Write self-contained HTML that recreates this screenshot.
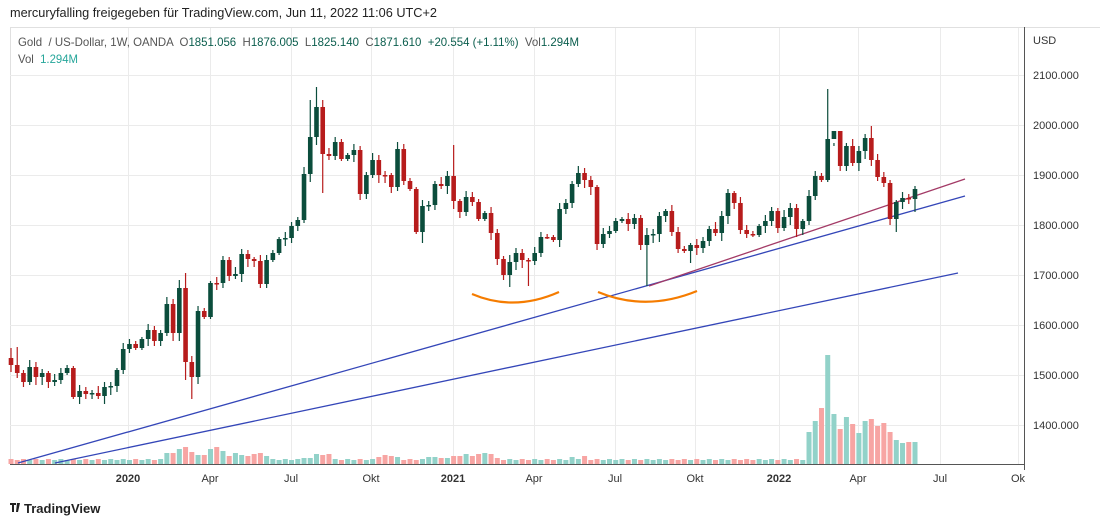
<!DOCTYPE html>
<html><head><meta charset="utf-8">
<style>
html,body{margin:0;padding:0;background:#fff;}
body{width:1100px;height:527px;overflow:hidden;font-family:"Liberation Sans","DejaVu Sans",sans-serif;}
svg text{font-family:"Liberation Sans","DejaVu Sans",sans-serif;}
</style></head>
<body>
<svg id="s" width="1100" height="527" viewBox="0 0 1100 527" xmlns="http://www.w3.org/2000/svg">
<rect width="1100" height="527" fill="#fff"/>
<text x="10" y="17" font-size="13" fill="#222" textLength="427" lengthAdjust="spacingAndGlyphs">mercuryfalling freigegeben für TradingView.com, Jun 11, 2022 11:06 UTC+2</text>
<line x1="10" y1="27.5" x2="1100" y2="27.5" stroke="#e0e0e0"/>
<line x1="10.5" y1="27" x2="10.5" y2="465" stroke="#e0e0e0"/>
<g id="grid" stroke="#ebebeb" stroke-width="1"></g>
<text x="18" y="46" font-size="12" fill="#555" xml:space="preserve" textLength="561" lengthAdjust="spacingAndGlyphs">Gold  / US-Dollar, 1W, OANDA  <tspan fill="#555">O</tspan><tspan fill="#0b5e4e">1851.056</tspan>  <tspan fill="#555">H</tspan><tspan fill="#0b5e4e">1876.005</tspan>  <tspan fill="#555">L</tspan><tspan fill="#0b5e4e">1825.140</tspan>  <tspan fill="#555">C</tspan><tspan fill="#0b5e4e">1871.610  +20.554 (+1.11%)</tspan>  <tspan fill="#555">Vol</tspan><tspan fill="#0b5e4e">1.294M</tspan></text>
<text x="18" y="63" font-size="12" fill="#555" xml:space="preserve" textLength="60" lengthAdjust="spacingAndGlyphs">Vol  <tspan fill="#26a69a">1.294M</tspan></text>
<g id="vol"></g>
<g id="lines" fill="none" stroke-width="1.3">
<line x1="18" y1="463" x2="965" y2="196" stroke="#3446b8"/>
<line x1="55" y1="463" x2="958" y2="273" stroke="#3446b8"/>
<line x1="649" y1="286" x2="965" y2="179" stroke="#a33a66"/>
<path d="M472,294 Q514,312 559,292" stroke="#f57c00" stroke-width="2.2"/>
<path d="M598,292 Q646,312 697,291" stroke="#f57c00" stroke-width="2.2"/>
</g>
<g id="c"></g>
<line x1="1024.5" y1="27" x2="1024.5" y2="470" stroke="#555"/>
<line x1="10" y1="464.5" x2="1024" y2="464.5" stroke="#555"/>
<text x="1033" y="44" font-size="11" fill="#333">USD</text>
<g id="pl" font-size="11" fill="#333"></g>
<g id="tl" font-size="11" fill="#333" text-anchor="middle"></g>
<g transform="translate(10,503)"><path d="M0,0h6v2h-2v7h-2v-7h-2z M7,0h3l-2,9h-2z" fill="#222"/></g>
<text x="24" y="513" font-size="13" fill="#222" font-weight="bold">TradingView</text>
</svg>
<script>
(function(){
var NS="http://www.w3.org/2000/svg";
function el(p,t,a,txt){var e=document.createElementNS(NS,t);for(var k in a)e.setAttribute(k,a[k]);if(txt)e.textContent=txt;document.getElementById(p).appendChild(e);return e;}
var prices=[2100,2000,1900,1800,1700,1600,1500,1400];
prices.forEach(function(p,i){var y=75+i*50;el("grid","line",{x1:10,y1:y+.5,x2:1024,y2:y+.5});el("pl","text",{x:1033,y:y+4},p+".000");});
var tx=[[128,"2020",1],[210,"Apr"],[291,"Jul"],[371,"Okt"],[453,"2021",1],[534,"Apr"],[615,"Jul"],[695,"Okt"],[779,"2022",1],[858,"Apr"],[940,"Jul"],[1018,"Ok"]];
tx.forEach(function(t){el("grid","line",{x1:t[0]+.5,y1:28,x2:t[0]+.5,y2:464});var e=el("tl","text",{x:t[0],y:482},t[1]);if(t[2])e.setAttribute("font-weight","bold");});
var cl=[365,373,382,367,377,373,382,380,373,368,397,391,394,393,396,387,386,370,349,344,348,339,330,341,333,304,333,288,362,377,311,317,283,283,260,276,274,254,259,261,284,260,253,239,238,226,220,174,137,107,154,156,142,159,155,150,194,175,160,175,175,187,149,181,189,232,206,205,184,186,176,201,212,197,202,219,213,233,259,275,262,253,260,261,253,237,237,240,209,203,184,173,180,187,244,234,231,221,219,224,218,245,235,234,216,211,232,249,251,245,248,241,229,233,216,193,203,230,234,235,226,221,211,228,217,208,229,221,196,176,180,139,131,166,146,163,151,138,160,177,183,219,202,198,199,189];
var hi={1:348,2:347,29:273,28:280,49:100,50:87,51:100,63:142,72:145,132:89,133:143,139:126,134:151};
var lo={29:380,30:399,51:193,31:384,57:200,67:243,79:265,80:280,81:287,84:286,103:286,110:263,142:225,143:232,146:212};
var vh={26:11,27:11,28:15,29:17,30:12,31:9,32:9,33:15,34:17,35:13,36:8,37:11,38:9,39:8,40:10,41:11,42:8,48:6,49:6,50:10,51:9,52:10,60:7,61:9,62:8,63:7,68:7,69:7,70:6,71:6,72:8,73:8,74:10,75:8,76:10,77:11,78:10,79:6,91:7,92:5,93:8,
129:32,130:43,131:56,132:109,133:50,134:35,135:47,136:40,137:31,138:43,139:45,140:38,141:41,142:32,143:24,144:21,145:22,146:22};
var sp=904/145;
for(var i=0;i<cl.length;i++){
 var n=i+1,x=11+i*sp,o=(i==0?358:cl[i-1]),c=cl[i];
 var up=c<o;var col=up?"#0b4d3c":"#b71c1c";
 var tp=Math.min(o,c),bt=Math.max(o,c);
 var r=((n*37)%11);
 var h=hi[n]!==undefined?hi[n]:tp-(2+r%6);
 var l=lo[n]!==undefined?lo[n]:bt+(2+(r*3)%7);
 el("c","line",{x1:x,y1:h,x2:x,y2:l,stroke:col,"stroke-width":1.2});
 el("c","rect",{x:x-2.3,y:tp,width:4.6,height:Math.max(1.5,bt-tp),fill:col});
 var vv=vh[n]!==undefined?vh[n]:(4+(n*7)%2);
 el("vol","rect",{x:x-2.5,y:464-vv,width:5,height:vv,fill:up?"#92d2c9":"#f7a5a3"});
}
})();
</script>
</body></html>
